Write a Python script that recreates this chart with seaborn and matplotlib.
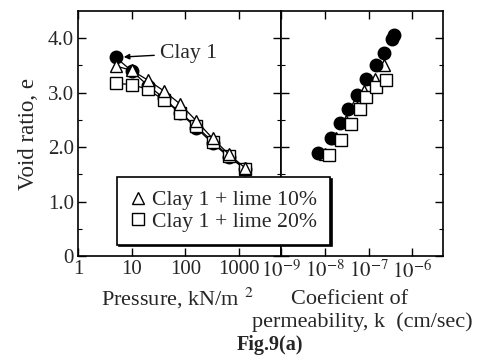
import numpy as np
import matplotlib
matplotlib.use("Agg")
import matplotlib.pyplot as plt
import seaborn as sns
from matplotlib.ticker import LogLocator, FixedLocator, NullFormatter, FixedFormatter

# consolidation curves (pressure kN/m2 vs void ratio)
pressure = [5, 10, 20, 40, 80, 160, 320, 640, 1280]
e_clay1 = [3.65, 3.40, 3.13, 2.90, 2.62, 2.35, 2.07, 1.82, 1.60]
e_lime10 = [3.49, 3.41, 3.23, 3.03, 2.79, 2.48, 2.16, 1.87, 1.62]
e_lime20 = [3.17, 3.15, 3.06, 2.86, 2.63, 2.38, 2.10, 1.84, 1.60]

# permeability (cm/sec) vs void ratio
k_clay1 = [6.9e-9, 1.35e-8, 2.2e-8, 3.4e-8, 5.4e-8, 8.5e-8, 1.45e-7, 2.3e-7, 3.5e-7, 3.8e-7]
ek_clay1 = [1.89, 2.17, 2.44, 2.70, 2.95, 3.25, 3.50, 3.73, 3.98, 4.06]
k_lime10 = [1.0e-8, 1.8e-8, 3.0e-8, 5.0e-8, 7.9e-8, 1.38e-7, 2.2e-7]
ek_lime10 = [1.87, 2.16, 2.48, 2.79, 3.03, 3.26, 3.50]
k_lime20 = [1.23e-8, 2.3e-8, 3.9e-8, 6.3e-8, 8.9e-8, 1.45e-7, 2.45e-7]
ek_lime20 = [1.85, 2.13, 2.42, 2.70, 2.92, 3.10, 3.23]

sns.set_style('ticks')
plt.rcParams['font.family'] = ['Liberation Serif', 'DejaVu Serif']
plt.rcParams['mathtext.fontset'] = 'stix'
plt.rcParams['font.size'] = 15

fig = plt.figure(figsize=(4.81, 3.6), dpi=100)
ax1 = fig.add_axes([78/481, 1-256/360, 203/481, 245/360])
ax2 = fig.add_axes([281/481, 1-256/360, 162/481, 245/360])

ms = 9
sty = dict(color='k', linewidth=0.9, markeredgecolor='k', markeredgewidth=1.0, markersize=ms)
sns.lineplot(x=pressure, y=e_clay1, ax=ax1, marker='o', markerfacecolor='k', sort=False, **sty)
sns.lineplot(x=pressure, y=e_lime20, ax=ax1, marker='s', markerfacecolor='white', sort=False, **sty)
sns.lineplot(x=pressure, y=e_lime10, ax=ax1, marker='^', markerfacecolor='white', sort=False, **sty)

sty2 = dict(color='k', linestyle='none', markeredgecolor='k', markeredgewidth=1.0, markersize=ms)
sns.lineplot(x=k_lime10, y=ek_lime10, ax=ax2, marker='^', markerfacecolor='white', sort=False, **sty2)
sns.lineplot(x=k_clay1, y=ek_clay1, ax=ax2, marker='o', markerfacecolor='k', sort=False, **sty2)
sns.lineplot(x=k_lime20, y=ek_lime20, ax=ax2, marker='s', markerfacecolor='white', sort=False, **sty2)

for ax in (ax1, ax2):
    ax.set_xscale('log')
    ax.set_ylim(0, 4.5)
    ax.yaxis.set_major_locator(FixedLocator([0, 1, 2, 3, 4]))
    ax.yaxis.set_minor_locator(FixedLocator(np.arange(0.5, 4.5, 1.0)))
    ax.tick_params(which='both', direction='in', top=True, right=True, color='k')
    ax.tick_params(which='major', length=6, width=1)
    ax.tick_params(which='minor', length=3, width=0.8)
    for s in ax.spines.values():
        s.set_color('k')
        s.set_linewidth(1.2)

ax1.set_xlim(1, 6000)
ax1.xaxis.set_major_locator(FixedLocator([1, 10, 100, 1000]))
ax1.xaxis.set_major_formatter(FixedFormatter(['1', '10', '100', '1000']))
ax1.xaxis.set_minor_locator(LogLocator(base=10, subs=np.arange(2, 10)))
ax1.xaxis.set_minor_formatter(NullFormatter())
ax1.yaxis.set_major_formatter(FixedFormatter(['0', '1.0', '2.0', '3.0', '4.0']))
ax1.tick_params(axis='both', which='major', labelsize=15, pad=3)
ax1.set_ylabel('Void ratio, e', fontsize=16.5, labelpad=6)

ax2.set_xlim(1e-9, 5e-6)
ax2.xaxis.set_major_locator(FixedLocator([1e-9, 1e-8, 1e-7, 1e-6]))
ax2.xaxis.set_major_formatter(FixedFormatter(['$10^{-9}$', '$10^{-8}$', '$10^{-7}$', '$10^{-6}$']))
ax2.xaxis.set_minor_locator(FixedLocator([]))
ax2.tick_params(axis='x', which='major', labelsize=15, pad=3)
ax2.tick_params(axis='y', labelleft=False)

ax1.annotate('Clay 1', xy=(5.6, 3.65), xytext=(34, 3.72), fontsize=15.6, va='center', ha='left',
             arrowprops=dict(arrowstyle='-|>', color='k', lw=1.0, mutation_scale=8, shrinkA=2, shrinkB=4))

handles = [
    plt.Line2D([], [], marker='^', linestyle='none', markerfacecolor='white', markeredgecolor='k', markersize=9),
    plt.Line2D([], [], marker='s', linestyle='none', markerfacecolor='white', markeredgecolor='k', markersize=9),
]
leg = fig.legend(handles, ['Clay 1 + lime 10%', 'Clay 1 + lime 20%'], loc='upper left',
                 bbox_to_anchor=(117/481, 1-177/360), frameon=True, fancybox=False, fontsize=15.7,
                 handlelength=0.7, handletextpad=0.3, borderpad=0.6, labelspacing=0.05,
                 borderaxespad=0, shadow={'color': 'k', 'alpha': 1, 'ox': 1.2, 'oy': -1.2})
leg.get_frame().set_edgecolor('k')
leg.get_frame().set_linewidth(1.2)

fig.text(177/481, 1-298/360, 'Pressure, kN/m $^2$', ha='center', va='center', fontsize=16)
fig.text(350/481, 1-300/360, 'Coeficient of', ha='center', va='center', fontsize=16)
fig.text(362/481, 1-322/360, 'permeability, k  (cm/sec)', ha='center', va='center', fontsize=16)
fig.text(270/481, 1-345/360, 'Fig.9(a)', ha='center', va='center', fontsize=14.5, fontweight='bold')

fig.savefig('out.png', dpi=100)
